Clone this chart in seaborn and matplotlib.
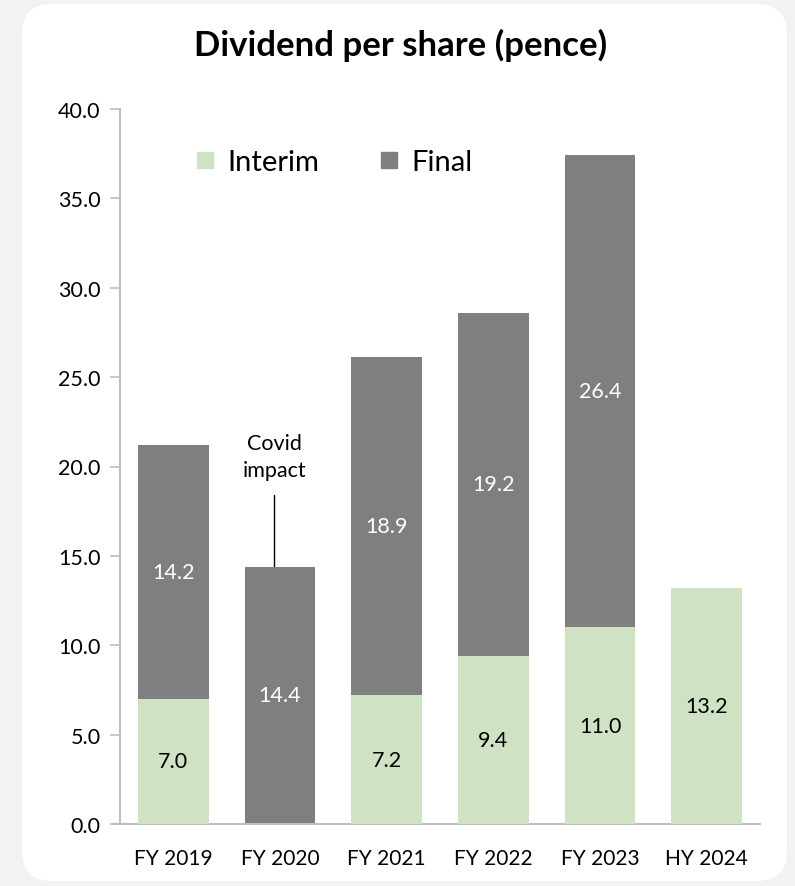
import matplotlib
matplotlib.use("Agg")
import matplotlib.pyplot as plt
from matplotlib.patches import FancyBboxPatch
from matplotlib.lines import Line2D
import seaborn as sns
import pandas as pd

# Dividend per share, pence
periods = ["FY 2019", "FY 2020", "FY 2021", "FY 2022", "FY 2023", "HY 2024"]
interim = [7.0, 0.0, 7.2, 9.4, 11.0, 13.2]
final = [14.2, 14.4, 18.9, 19.2, 26.4, 0.0]

GREEN = "#cfe2c4"
GREY = "#7f7f7f"
AXIS = "#bfbfbf"

sns.set_theme(style="white")
plt.rcParams["font.family"] = ["Lato", "DejaVu Sans"]
plt.rcParams["text.color"] = "black"
plt.rcParams["xtick.color"] = "black"
plt.rcParams["ytick.color"] = "black"

df = pd.DataFrame({"period": periods, "interim": interim, "final": final})
df["total"] = df["interim"] + df["final"]

fig = plt.figure(figsize=(7.95, 8.87), dpi=100)
fig.patch.set_facecolor("#f2f2f2")

# white rounded card behind the chart
bg = fig.add_axes([0, 0, 1, 1], zorder=-10)
bg.set_axis_off()
bg.set_xlim(0, 795)
bg.set_ylim(887, 0)
bg.add_patch(FancyBboxPatch((22, 5), 765, 877,
                            boxstyle="round,pad=0,rounding_size=30",
                            facecolor="white", edgecolor="none"))

ax = fig.add_axes([120 / 795, (887 - 825) / 887, (760 - 120) / 795, (825 - 110) / 887])
ax.set_facecolor("none")

width = 0.665
sns.barplot(data=df[df["final"] > 0], x="period", y="total", order=periods,
            color=GREY, saturation=1, width=width, linewidth=0, ax=ax, zorder=2)
sns.barplot(data=df[df["interim"] > 0], x="period", y="interim", order=periods,
            color=GREEN, saturation=1, width=width, linewidth=0, ax=ax, zorder=3)

# segment value labels
for i, (a, b) in enumerate(zip(interim, final)):
    if a > 0:
        ax.text(i, a / 2, f"{a:.1f}", ha="center", va="center",
                fontsize=15.5, color="black", zorder=5)
    if b > 0:
        ax.text(i, a + b / 2, f"{b:.1f}", ha="center", va="center",
                fontsize=15.5, color="white", zorder=5)

# Covid note above FY 2020
ax.plot([0.94, 0.94], [14.45, 18.4], color="black", lw=1, zorder=4)
ax.text(0.945, 20.55, "Covid\nimpact", ha="center", va="center",
        fontsize=15.5, linespacing=1.45, zorder=5)

ax.set_xlim(-0.5, 5.5)
ax.set_ylim(0, 40)
ax.set_yticks([0, 5, 10, 15, 20, 25, 30, 35, 40])
ax.set_yticklabels([f"{v:.1f}" for v in range(0, 45, 5)])
ax.set_xlabel("")
ax.set_ylabel("")
ax.tick_params(axis="y", length=7, width=1.2, color=AXIS, labelsize=15.5, pad=7,
               direction="out", left=True, labelcolor="black")
ax.tick_params(axis="x", length=0, labelsize=15, pad=17, labelcolor="black")
for s in ["top", "right"]:
    ax.spines[s].set_visible(False)
for s in ["left", "bottom"]:
    ax.spines[s].set_color(AXIS)
    ax.spines[s].set_linewidth(1.5)
ax.spines["bottom"].set_bounds(-0.565, 5.5)

handles = [Line2D([], [], marker="s", linestyle="none", markersize=12,
                  markerfacecolor=GREEN, markeredgecolor=GREEN, label="Interim"),
           Line2D([], [], marker="s", linestyle="none", markersize=12,
                  markerfacecolor=GREY, markeredgecolor=GREY, label="Final")]
ax.legend(handles=handles, loc="center left", bbox_to_anchor=(0.115, 0.926),
          ncol=2, frameon=False, fontsize=21, handlelength=0.8,
          handletextpad=0.35, columnspacing=2.0, borderpad=0,
          borderaxespad=0)

fig.text(401 / 795, 1 - 45 / 887, "Dividend per share (pence)", ha="center",
         va="center", fontsize=25, fontweight="bold", color="black")

fig.savefig("out.png", dpi=100, facecolor=fig.get_facecolor())
